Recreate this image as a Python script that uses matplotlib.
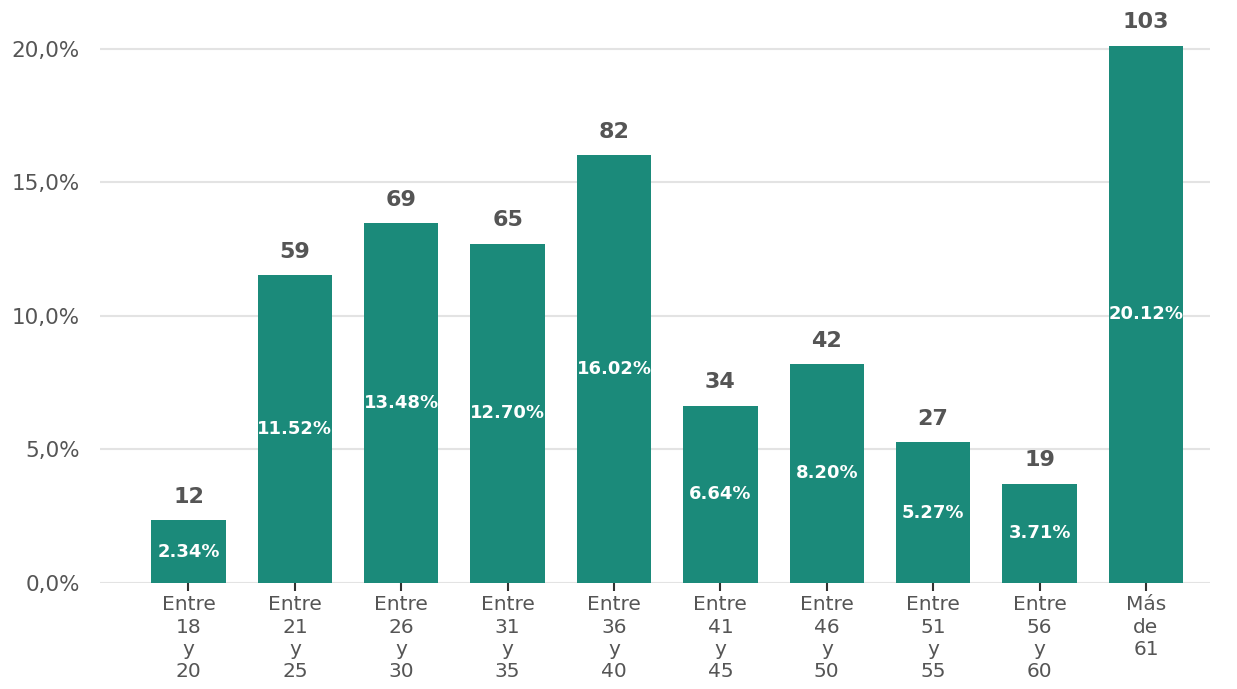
import numpy as np
import matplotlib.pyplot as plt

categorias = ['Entre\n18\ny\n20', 'Entre\n21\ny\n25', 'Entre\n26\ny\n30', 'Entre\n31\ny\n35',
              'Entre\n36\ny\n40', 'Entre\n41\ny\n45', 'Entre\n46\ny\n50', 'Entre\n51\ny\n55',
              'Entre\n56\ny\n60', 'Más\nde\n61']
conteos = [12, 59, 69, 65, 82, 34, 42, 27, 19, 103]
porcentajes = [2.34, 11.52, 13.48, 12.70, 16.02, 6.64, 8.20, 5.27, 3.71, 20.12]

fig = plt.figure(figsize=(12.37, 6.89), dpi=100)
ax = fig.add_axes([0.081, 0.154, 0.897, 0.814])

x = np.arange(len(categorias))
bars = ax.bar(x, porcentajes, width=0.7, color='#1b8a7a', zorder=2)

for xi, p, c in zip(x, porcentajes, conteos):
    ax.text(xi, p + 0.5, str(c), ha='center', va='bottom', fontsize=16,
            fontweight='bold', color='#555555')
    ax.text(xi, p / 2, '%.2f%%' % p, ha='center', va='center', fontsize=13,
            fontweight='bold', color='white')

ax.set_xlim(-0.83, 9.6)
ax.set_ylim(0, 21)
ax.set_yticks([0, 5, 10, 15, 20])
ax.set_yticklabels(['0,0%', '5,0%', '10,0%', '15,0%', '20,0%'])
ax.set_xticks(x)
ax.set_xticklabels(categorias, linespacing=1.22)

ax.grid(axis='y', color='#e3e3e3', linewidth=1.5, zorder=0)
for s in ax.spines.values():
    s.set_visible(False)
ax.tick_params(axis='y', length=0, labelsize=15.5, labelcolor='#555555', pad=14.5)
ax.tick_params(axis='x', length=6, width=1.5, color='#333333', labelsize=14.5,
               labelcolor='#555555', pad=3)

fig.savefig('out.png', dpi=100)
